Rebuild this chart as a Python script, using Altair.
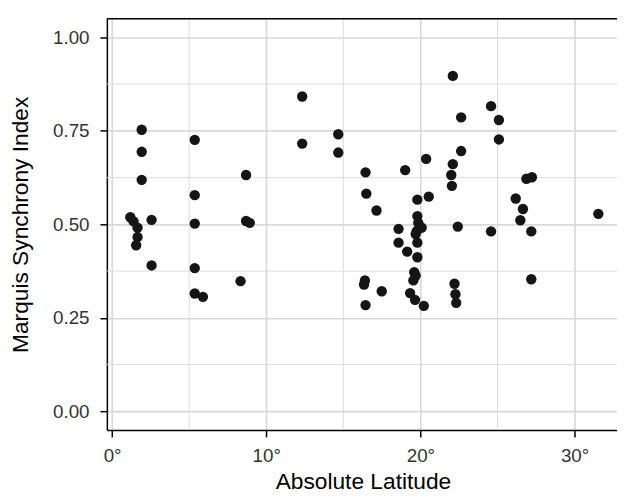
import altair as alt
import pandas as pd

# Absolute latitude (degrees) and Marquis Synchrony Index
lat = [1.92, 1.92, 1.92, 1.18, 1.39, 1.65, 1.65, 1.56, 2.56, 2.56,
       5.36, 5.36, 5.36, 5.36, 5.36, 5.89, 8.69, 8.69, 8.93, 8.33,
       12.33, 12.33, 14.67, 14.67, 16.44, 16.49, 17.15, 16.40, 16.34, 16.44,
       17.49, 19.01, 20.37, 19.80, 20.54, 18.58, 18.58, 19.14,
       19.80, 19.86, 20.08, 19.76, 19.69, 19.80, 19.80, 19.60, 19.69, 19.54,
       19.33, 19.65, 20.22,
       22.10, 22.10, 22.00, 22.04, 22.64, 22.64, 24.58, 25.09, 25.09, 22.42,
       24.58, 26.87, 27.23, 26.18, 26.65, 26.48, 27.19, 27.19, 31.54, 22.21,
       22.27, 22.32]
msi = [0.753, 0.694, 0.619, 0.519, 0.508, 0.491, 0.466, 0.444, 0.512, 0.390,
       0.726, 0.578, 0.502, 0.383, 0.315, 0.306, 0.632, 0.509, 0.504, 0.348,
       0.842, 0.716, 0.741, 0.692, 0.639, 0.582, 0.537, 0.350, 0.339, 0.284,
       0.321, 0.645, 0.675, 0.566, 0.574, 0.488, 0.451, 0.427,
       0.522, 0.504, 0.491, 0.482, 0.474, 0.451, 0.412, 0.372, 0.363, 0.350,
       0.316, 0.298, 0.282,
       0.897, 0.661, 0.632, 0.603, 0.786, 0.696, 0.816, 0.779, 0.727, 0.494,
       0.481, 0.622, 0.626, 0.569, 0.541, 0.511, 0.481, 0.353, 0.528, 0.341,
       0.313, 0.290]

x_major = [0, 10, 20, 30]
x_minor = [5, 15, 25]
y_major = [0.0, 0.25, 0.5, 0.75, 1.0]
y_minor = [0.125, 0.375, 0.625, 0.875]
x_domain = [-0.34, 32.75]
y_domain = [-0.05, 1.05]

df = pd.DataFrame({"lat": lat, "msi": msi})
grid_color = "#d9d9d9"
FONT = "Liberation Sans"

xscale = alt.Scale(domain=x_domain, nice=False, zero=False)
yscale = alt.Scale(domain=y_domain, nice=False, zero=False)

x_axis = alt.Axis(
    values=x_major, labelExpr="datum.value + '°'", title="Absolute Latitude",
    grid=True, gridColor=grid_color, gridWidth=1.7,
    domainColor="black", domainWidth=1.5, tickColor="black", tickWidth=1.5,
    tickSize=7, labelPadding=10, labelFontSize=19, labelColor="#333333",
    labelFont=FONT, titleFont=FONT, titleFontSize=23, titleFontWeight="normal",
    titleColor="black", titleBaseline="top", titleX=259, titleY=41,
)
y_axis = alt.Axis(
    values=y_major, format=".2f", title="Marquis Synchrony Index",
    grid=True, gridColor=grid_color, gridWidth=1.7,
    domainColor="black", domainWidth=1.5, tickColor="black", tickWidth=1.5,
    tickSize=7, labelPadding=11, labelFontSize=19, labelColor="#333333",
    labelFont=FONT, titleFont=FONT, titleFontSize=23, titleFontWeight="normal",
    titleColor="black", titleBaseline="alphabetic", titleX=-80, titleY=208,
)

x_minor_rules = alt.Chart(pd.DataFrame({"v": x_minor})).mark_rule(
    color=grid_color, strokeWidth=0.9
).encode(x=alt.X("v:Q", scale=xscale, axis=x_axis))

y_minor_rules = alt.Chart(pd.DataFrame({"v": y_minor})).mark_rule(
    color=grid_color, strokeWidth=0.9
).encode(y=alt.Y("v:Q", scale=yscale, axis=y_axis))

top_border = alt.Chart(pd.DataFrame({"v": [y_domain[1]]})).mark_rule(
    color="black", strokeWidth=1.5
).encode(y=alt.Y("v:Q", scale=yscale, axis=y_axis))

points = alt.Chart(df).mark_circle(size=110, color="#151515", opacity=1).encode(
    x=alt.X("lat:Q", scale=xscale, axis=x_axis),
    y=alt.Y("msi:Q", scale=yscale, axis=y_axis),
)

chart = alt.layer(x_minor_rules, y_minor_rules, top_border, points).properties(
    width=516, height=416,
    padding={"left": 100, "top": 8, "right": 0, "bottom": 66},
    autosize=alt.AutoSizeParams(type="none"),
).configure_view(stroke=None)

chart.save("out.html", embed_options={"renderer": "svg", "actions": False})
